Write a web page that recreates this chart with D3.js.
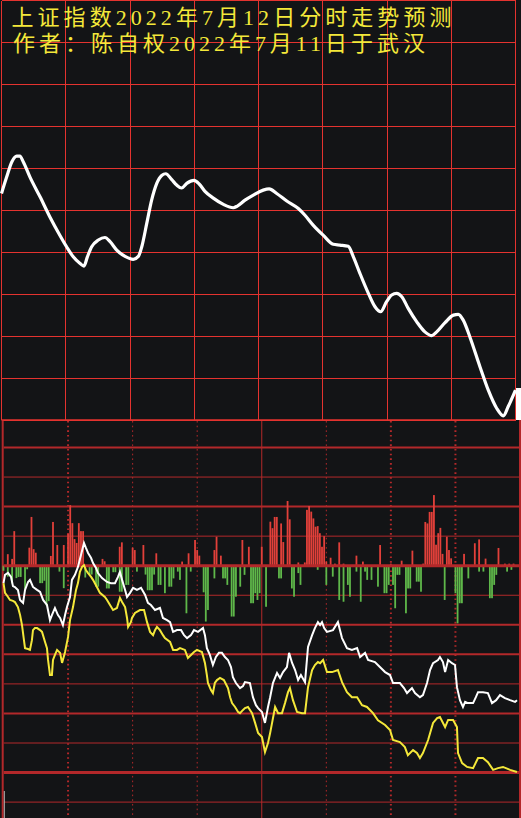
<!DOCTYPE html>
<html><head><meta charset="utf-8">
<script src="https://cdn.jsdelivr.net/npm/d3@7"></script>
<style>html,body{margin:0;padding:0;background:#131416;overflow:hidden}</style>
</head><body><svg id="c" width="521" height="818"></svg>
<script>
// ---------------- DATA ----------------
const titleLines = ["上证指数2022年7月12日分时走势预测", "作者：陈自权2022年7月11日于武汉"];

// predicted curve (top panel): [minute, index value]
const topCurve = [[0,3274.0],[2.4,3277.9],[4.8,3281.5],[7.1,3282.9],[8.6,3282.9],[10.2,3281.5],[13.3,3277.9],[18.0,3273.2],[22.6,3268.4],[27.3,3264.0],[30.4,3261.3],[33.5,3258.9],[36.7,3257.3],[38.5,3256.7],[40.1,3258.9],[42.1,3261.3],[45.2,3262.9],[48.3,3263.5],[50.7,3262.5],[53.8,3260.5],[57.7,3259.0],[61.5,3258.3],[63.9,3259.0],[65.5,3261.3],[67.8,3266.8],[70.1,3272.4],[72.5,3276.4],[74.8,3278.3],[76.7,3278.7],[79.5,3277.3],[81.8,3276.0],[84.1,3275.3],[86.5,3276.4],[89.9,3277.1],[92.4,3276.2],[95.0,3274.5],[98.9,3272.9],[103.6,3271.4],[108.2,3270.6],[110.1,3271.0],[113.7,3272.4],[117.6,3273.6],[122.2,3274.8],[125.0,3275.1],[128.5,3274.0],[133.2,3272.2],[138.6,3270.4],[141.7,3268.8],[145.6,3266.4],[150.3,3264.0],[154.9,3261.9],[158.0,3261.7],[161.9,3261.4],[164.3,3258.9],[167.4,3254.9],[171.3,3250.2],[174.4,3247.0],[177.0,3245.8],[179.8,3248.2],[182.2,3249.8],[184.5,3250.2],[186.9,3249.4],[189.9,3246.6],[193.9,3243.4],[197.7,3241.0],[200.9,3240.1],[203.2,3241.0],[207.1,3243.2],[211.0,3245.0],[213.3,3245.2],[215.6,3243.8],[218.7,3239.8],[223.4,3232.7],[227.3,3227.1],[231.2,3222.8],[234.3,3221.0],[236.6,3223.2],[240,3227.1]];

// lower panel lines: [minute, value in grid units]
const whiteLine = [[0,-5.9],[0.7,-3.1],[2.1,-2.4],[3.5,-3.8],[4.4,-6.9],[5.3,-7.2],[6.7,-8.2],[7.7,-11.6],[9.1,-12.6],[10.0,-8.2],[11.4,-5.5],[12.3,-4.8],[13.7,-7.2],[15.6,-8.2],[17.0,-8.9],[18.4,-11.6],[20.2,-13.3],[21.6,-18.4],[22.5,-16.7],[23.9,-14.3],[25.3,-16.7],[26.3,-17.7],[27.6,-20.1],[28.6,-16.7],[29.5,-14.0],[30.9,-10.6],[31.8,-4.8],[33.2,-3.1],[34.6,-0.4],[36.0,3.6],[37.4,7.7],[38.3,6.0],[39.3,4.3],[40.7,2.6],[41.6,0.9],[43.0,-0.8],[43.9,-2.5],[45.8,-4.2],[48.1,-5.5],[49.9,-5.9],[51.8,-5.9],[53.2,-3.8],[54.1,-2.1],[55.1,-4.8],[56.5,-8.2],[57.4,-10.6],[58.8,-9.2],[60.2,-7.5],[62.0,-8.2],[63.9,-7.5],[65.8,-9.9],[67.1,-12.6],[68.5,-13.3],[70.4,-15.0],[72.7,-14.3],[74.1,-17.7],[76.0,-18.4],[77.4,-19.1],[78.8,-22.4],[80.6,-21.8],[82.5,-21.8],[83.9,-23.5],[85.3,-24.5],[87.1,-23.5],[88.5,-21.8],[90.4,-22.4],[92.7,-21.1],[93.6,-23.5],[94.5,-27.9],[95.9,-30.2],[97.3,-33.6],[98.7,-30.9],[100.1,-29.5],[101.5,-29.5],[102.9,-30.9],[104.3,-31.9],[105.7,-34.3],[106.6,-37.7],[108.0,-39.7],[109.9,-41.4],[111.3,-40.7],[112.2,-39.4],[114.5,-39.7],[115.9,-44.5],[117.3,-47.2],[118.3,-48.2],[120.1,-49.5],[121.5,-53.2],[122.9,-47.8],[123.9,-44.5],[125.2,-39.7],[127.1,-36.3],[128.5,-38.0],[129.9,-36.0],[131.7,-34.3],[132.7,-29.5],[134.1,-32.9],[135.5,-35.3],[136.9,-38.7],[138.2,-37.0],[140.1,-39.4],[141.5,-27.5],[143.4,-23.5],[144.7,-21.1],[146.1,-19.1],[147.1,-20.1],[148.0,-19.1],[149.0,-21.1],[150.3,-22.4],[153.1,-21.8],[155.4,-19.1],[157.3,-24.5],[159.6,-27.9],[161.9,-28.5],[164.3,-27.9],[165.7,-30.9],[168.0,-29.5],[169.4,-31.9],[172.6,-32.6],[174.9,-34.3],[177.3,-36.0],[179.6,-37.0],[181.0,-39.7],[184.2,-39.7],[186.1,-41.4],[187.5,-43.1],[189.8,-41.4],[191.2,-43.1],[193.5,-44.5],[194.9,-43.8],[196.8,-39.7],[198.2,-35.3],[199.6,-33.0],[201.9,-31.9],[202.8,-30.9],[204.2,-32.6],[205.2,-36.0],[206.6,-31.9],[208.4,-33.0],[209.8,-33.6],[210.7,-41.1],[212.1,-45.5],[213.5,-47.8],[214.5,-46.1],[215.8,-46.5],[218.2,-46.5],[219.5,-44.5],[220.5,-42.8],[222.8,-42.8],[225.1,-43.1],[227.0,-46.5],[228.9,-45.5],[230.7,-43.8],[233.0,-44.8],[235.4,-45.5],[237.7,-46.1],[238.6,-45.5]];

const yellowLine = [[0,-5.9],[0.7,-9.2],[2.1,-10.6],[3.0,-11.6],[4.4,-11.9],[5.3,-12.3],[6.7,-14.0],[7.7,-16.7],[8.6,-20.1],[9.5,-25.2],[10.0,-27.9],[11.4,-28.2],[12.3,-28.5],[13.2,-25.2],[13.7,-21.8],[14.6,-21.1],[15.6,-21.1],[17.0,-21.8],[17.9,-22.4],[19.3,-25.8],[20.2,-27.9],[20.7,-31.9],[21.6,-37.0],[22.5,-37.0],[23.0,-31.9],[23.9,-30.2],[24.9,-28.5],[26.3,-29.5],[27.2,-32.9],[27.6,-31.9],[28.6,-29.2],[30.0,-24.1],[30.9,-18.4],[32.3,-14.0],[33.7,-8.2],[34.6,-5.9],[35.5,-2.1],[36.5,-0.4],[37.4,0.2],[38.3,-1.5],[39.3,-2.5],[40.7,-3.8],[41.6,-4.8],[43.4,-7.2],[44.8,-9.2],[47.1,-10.6],[48.1,-11.6],[49.5,-13.3],[50.9,-15.0],[52.7,-14.3],[54.1,-10.9],[55.1,-12.3],[56.5,-14.0],[57.4,-17.7],[57.9,-20.7],[59.2,-19.1],[59.7,-17.7],[61.1,-16.0],[63.4,-15.0],[65.3,-15.0],[66.7,-19.1],[68.1,-22.4],[69.5,-23.5],[70.4,-21.8],[71.3,-20.7],[72.7,-21.8],[74.1,-23.5],[75.0,-24.5],[77.4,-25.8],[78.8,-28.5],[80.6,-28.5],[82.0,-27.9],[84.3,-28.5],[85.7,-31.2],[87.1,-30.2],[88.5,-29.2],[89.9,-28.5],[92.2,-29.2],[93.6,-32.9],[94.5,-37.0],[95.0,-39.7],[96.4,-42.1],[97.3,-43.1],[98.2,-39.7],[99.2,-38.7],[100.6,-38.0],[102.4,-38.7],[104.3,-41.4],[105.3,-44.5],[106.2,-46.5],[107.6,-47.8],[109.0,-49.5],[109.9,-49.9],[111.3,-48.8],[112.2,-48.2],[113.6,-47.8],[115.5,-49.9],[116.9,-53.2],[118.3,-56.6],[120.1,-58.0],[121.5,-63.1],[122.9,-60.0],[123.9,-56.6],[124.8,-53.2],[126.2,-47.8],[127.6,-49.9],[129.4,-49.9],[130.8,-46.5],[132.2,-42.8],[133.1,-41.4],[134.5,-45.5],[136.4,-49.5],[138.7,-49.9],[140.1,-49.9],[141.5,-41.1],[143.4,-35.3],[144.7,-33.6],[146.1,-32.6],[147.1,-33.0],[148.5,-31.9],[150.3,-36.0],[152.7,-36.0],[155.4,-35.3],[157.3,-39.4],[159.6,-42.8],[161.9,-44.5],[164.3,-44.5],[166.6,-47.2],[168.9,-47.8],[171.7,-49.9],[174.0,-52.3],[177.3,-53.9],[179.6,-55.6],[181.0,-59.0],[184.2,-59.7],[186.5,-61.4],[187.9,-64.1],[190.3,-62.4],[192.1,-63.4],[193.5,-65.1],[194.9,-63.4],[197.3,-59.0],[199.6,-53.2],[201.5,-51.6],[202.8,-51.2],[205.2,-54.6],[206.6,-52.2],[208.9,-52.2],[210.7,-54.6],[211.2,-63.4],[213.1,-66.8],[215.4,-68.1],[218.2,-68.5],[220.5,-65.1],[222.8,-65.1],[225.1,-66.5],[227.5,-69.1],[229.8,-68.5],[232.1,-68.1],[235.4,-69.1],[238.6,-69.8]];

// volume-like bars: [minute, value]
const redVolume = [[2,39],[4,23],[5,117],[12,61],[13,165],[14,56],[15,44],[22,33],[23,148],[25,70],[28,70],[30,107],[31,205],[32,144],[33,90],[34,77],[35,144],[36,117],[37,117],[46,23],[47,15],[54,64],[55,79],[60,61],[61,53],[65,70],[71,42],[83,14],[86,42],[89,87],[90,53],[91,34],[98,53],[99,98],[101,34],[111,87],[114,64],[120,64],[124,149],[125,127],[126,165],[127,165],[129,143],[130,80],[132,219],[133,157],[137,11],[140,11],[141,189],[142,202],[143,183],[144,160],[145,132],[146,134],[147,110],[148,64],[149,100],[150,14],[152,27],[154,7],[156,79],[158,7],[164,34],[167,14],[175,70],[180,7],[185,17],[190,51],[195,7],[196,148],[197,143],[198,182],[199,182],[200,239],[201,71],[202,110],[203,128],[204,40],[206,98],[207,53],[208,25],[214,40],[219,76],[221,89],[224,24],[230,60],[233,7],[235,7],[237,7]];
const greenVolume = [[0,-17],[2,-37],[4,-60],[6,-42],[7,-38],[8,-38],[10,-80],[11,-12],[17,-59],[18,-59],[19,-51],[20,-135],[21,-120],[26,-20],[28,-76],[38,-40],[40,-30],[41,-30],[43,-71],[44,-71],[48,-77],[49,-77],[51,-22],[52,-22],[54,-88],[55,-88],[57,-65],[58,-65],[62,-20],[66,-30],[67,-83],[68,-83],[69,-83],[70,-30],[72,-65],[73,-65],[75,-93],[77,-71],[78,-71],[79,-43],[81,-20],[82,-48],[85,-161],[87,-20],[93,-90],[94,-189],[95,-150],[98,-43],[102,-43],[103,-43],[104,-65],[106,-172],[107,-172],[108,-105],[110,-71],[112,-31],[115,-127],[116,-127],[117,-93],[118,-116],[119,-93],[122,-139],[128,-43],[129,-43],[134,-77],[135,-105],[137,-25],[138,-65],[146,-14],[150,-65],[153,-37],[156,-116],[158,-122],[160,-65],[161,-105],[164,-20],[166,-122],[168,-20],[169,-48],[171,-48],[174,-71],[177,-93],[178,-93],[179,-65],[181,-65],[182,-144],[183,-31],[184,-31],[187,-161],[188,-77],[189,-77],[192,-54],[193,-54],[194,-88],[205,-116],[210,-93],[211,-195],[212,-127],[213,-127],[216,-43],[221,-20],[223,-20],[226,-110],[227,-110],[228,-65],[229,-31],[234,-20],[236,-14]];

const topValueTicks = d3.range(3220, 3321, 10);
const minuteTicks = d3.range(0, 241, 30);
const lowerRowTicks = d3.range(40, -81, -10);

// ---------------- DRAW ----------------
const W = 521, H = 818;
const svg = d3.select("#c");
const BG = "#131416", TOPRED = "#e4332f", LOWRED = "#b3282a", YELLOW = "#f4e83a";
svg.append("rect").attr("width", W).attr("height", H).attr("fill", BG);

// top panel scales
const xTop = d3.scaleLinear().domain([0, 240]).range([1.5, 515.5]);
const yTop = d3.scaleLinear().domain([3320, 3220]).range([0.5, 420]);

// lower panel scales
const xLow = d3.scaleLinear().domain([0, 240]).range([3.5, 520]);
const yLine = d3.scaleLinear().domain([0, -80]).range([565.7, 802.1]);
const yBar = d3.scaleLinear().domain([0, 100]).range([565.7, 536.15]);

// top grid
const gTop = svg.append("g").attr("shape-rendering", "crispEdges");
gTop.selectAll("line.h").data(topValueTicks).join("line")
  .attr("x1", xTop(0)).attr("x2", xTop(240))
  .attr("y1", d => yTop(d)).attr("y2", d => yTop(d))
  .attr("stroke", TOPRED).attr("stroke-width", 1);
gTop.selectAll("line.v").data(minuteTicks).join("line")
  .attr("x1", d => xTop(d)).attr("x2", d => xTop(d))
  .attr("y1", yTop(3320)).attr("y2", yTop(3220))
  .attr("stroke", TOPRED).attr("stroke-width", 1);

// lower grid
const gLow = svg.append("g");
const rowWidth = v => ({40:2, 30:1, 20:2, 10:1, 0:3, "-10":1, "-20":2, "-30":2, "-40":1, "-50":2, "-60":1, "-70":3, "-80":1})[v];
gLow.selectAll("line.h").data(lowerRowTicks.filter(v => v !== 0)).join("line")
  .attr("x1", 3.7).attr("x2", 519)
  .attr("y1", d => yLine(d)).attr("y2", d => yLine(d))
  .attr("stroke", LOWRED).attr("stroke-width", d => rowWidth(d));
const vStyle = t => t === 120 ? {w:1, dash:null} : ([30,180,210].includes(t) ? {w:2, dash:"1.6,3.07"} : {w:1, dash:"1.6,3.07"});
gLow.selectAll("line.v").data(minuteTicks.filter(t => t > 0 && t < 240)).join("line")
  .attr("x1", d => xLow(d)).attr("x2", d => xLow(d))
  .attr("y1", 421).attr("y2", H)
  .attr("stroke", LOWRED)
  .attr("stroke-width", d => vStyle(d).w)
  .attr("stroke-dasharray", d => vStyle(d).dash);
// borders of lower panel
gLow.append("line").attr("x1", 2.7).attr("x2", 2.7).attr("y1", 420).attr("y2", H).attr("stroke", LOWRED).attr("stroke-width", 2);
gLow.append("line").attr("x1", 520).attr("x2", 520).attr("y1", 420).attr("y2", H).attr("stroke", LOWRED).attr("stroke-width", 2);

// bars
const barW = 1.8;
svg.append("g").selectAll("rect").data(redVolume).join("rect")
  .attr("x", d => xLow(d[0]) - barW / 2).attr("width", barW)
  .attr("y", d => yBar(d[1])).attr("height", d => yBar(0) - yBar(d[1]))
  .attr("fill", "#e2403a");
svg.append("g").selectAll("rect").data(greenVolume).join("rect")
  .attr("x", d => xLow(d[0]) - barW / 2).attr("width", barW)
  .attr("y", yBar(0)).attr("height", d => yBar(d[1]) - yBar(0))
  .attr("fill", "#5fb84a");

// zero line above bars
svg.append("line").attr("x1", 3.7).attr("x2", 519)
  .attr("y1", yLine(0)).attr("y2", yLine(0))
  .attr("stroke", LOWRED).attr("stroke-width", rowWidth(0));

// top border line of lower panel (bottom of top grid)
svg.append("line").attr("x1", xTop(0)).attr("x2", xTop(240)).attr("y1", yTop(3220)).attr("y2", yTop(3220))
  .attr("stroke", TOPRED).attr("stroke-width", 1.3);

// lower lines
const lineGen = d3.line().x(d => xLow(d[0])).y(d => yLine(d[1]));
svg.append("path").datum(whiteLine).attr("d", lineGen)
  .attr("fill", "none").attr("stroke", "#ffffff").attr("stroke-width", 2).attr("stroke-linejoin", "miter");
svg.append("path").datum(yellowLine).attr("d", lineGen)
  .attr("fill", "none").attr("stroke", YELLOW).attr("stroke-width", 2).attr("stroke-linejoin", "miter");

// small grey cursor mark bottom-left
svg.append("line").attr("x1", 4.3).attr("x2", 4.3).attr("y1", 791).attr("y2", H)
  .attr("stroke", "#b8b8b8").attr("stroke-width", 1);

// top predicted curve
svg.append("path").datum(topCurve)
  .attr("d", d3.line().x(d => xTop(d[0])).y(d => yTop(d[1])).curve(d3.curveMonotoneX))
  .attr("fill", "none").attr("stroke", "#ffffff").attr("stroke-width", 3.2)
  .attr("stroke-linecap", "butt").attr("stroke-linejoin", "round");

// white patch at the right edge (as in the source image)
svg.append("rect").attr("x", 516).attr("y", 388).attr("width", 5).attr("height", 32).attr("fill", "#ffffff");

// titles
const titleLen = [440, 412];
svg.append("g").selectAll("text").data(titleLines).join("text")
  .attr("x", (d, i) => i === 0 ? 11.5 : 13)
  .attr("y", (d, i) => 24.5 + i * 26.7)
  .attr("textLength", (d, i) => titleLen[i])
  .attr("lengthAdjust", "spacing")
  .attr("fill", YELLOW)
  .attr("font-family", "'Liberation Serif', 'Noto Sans CJK SC', serif")
  .attr("font-size", 22)
  .text(d => d);
</script>
</body></html>
